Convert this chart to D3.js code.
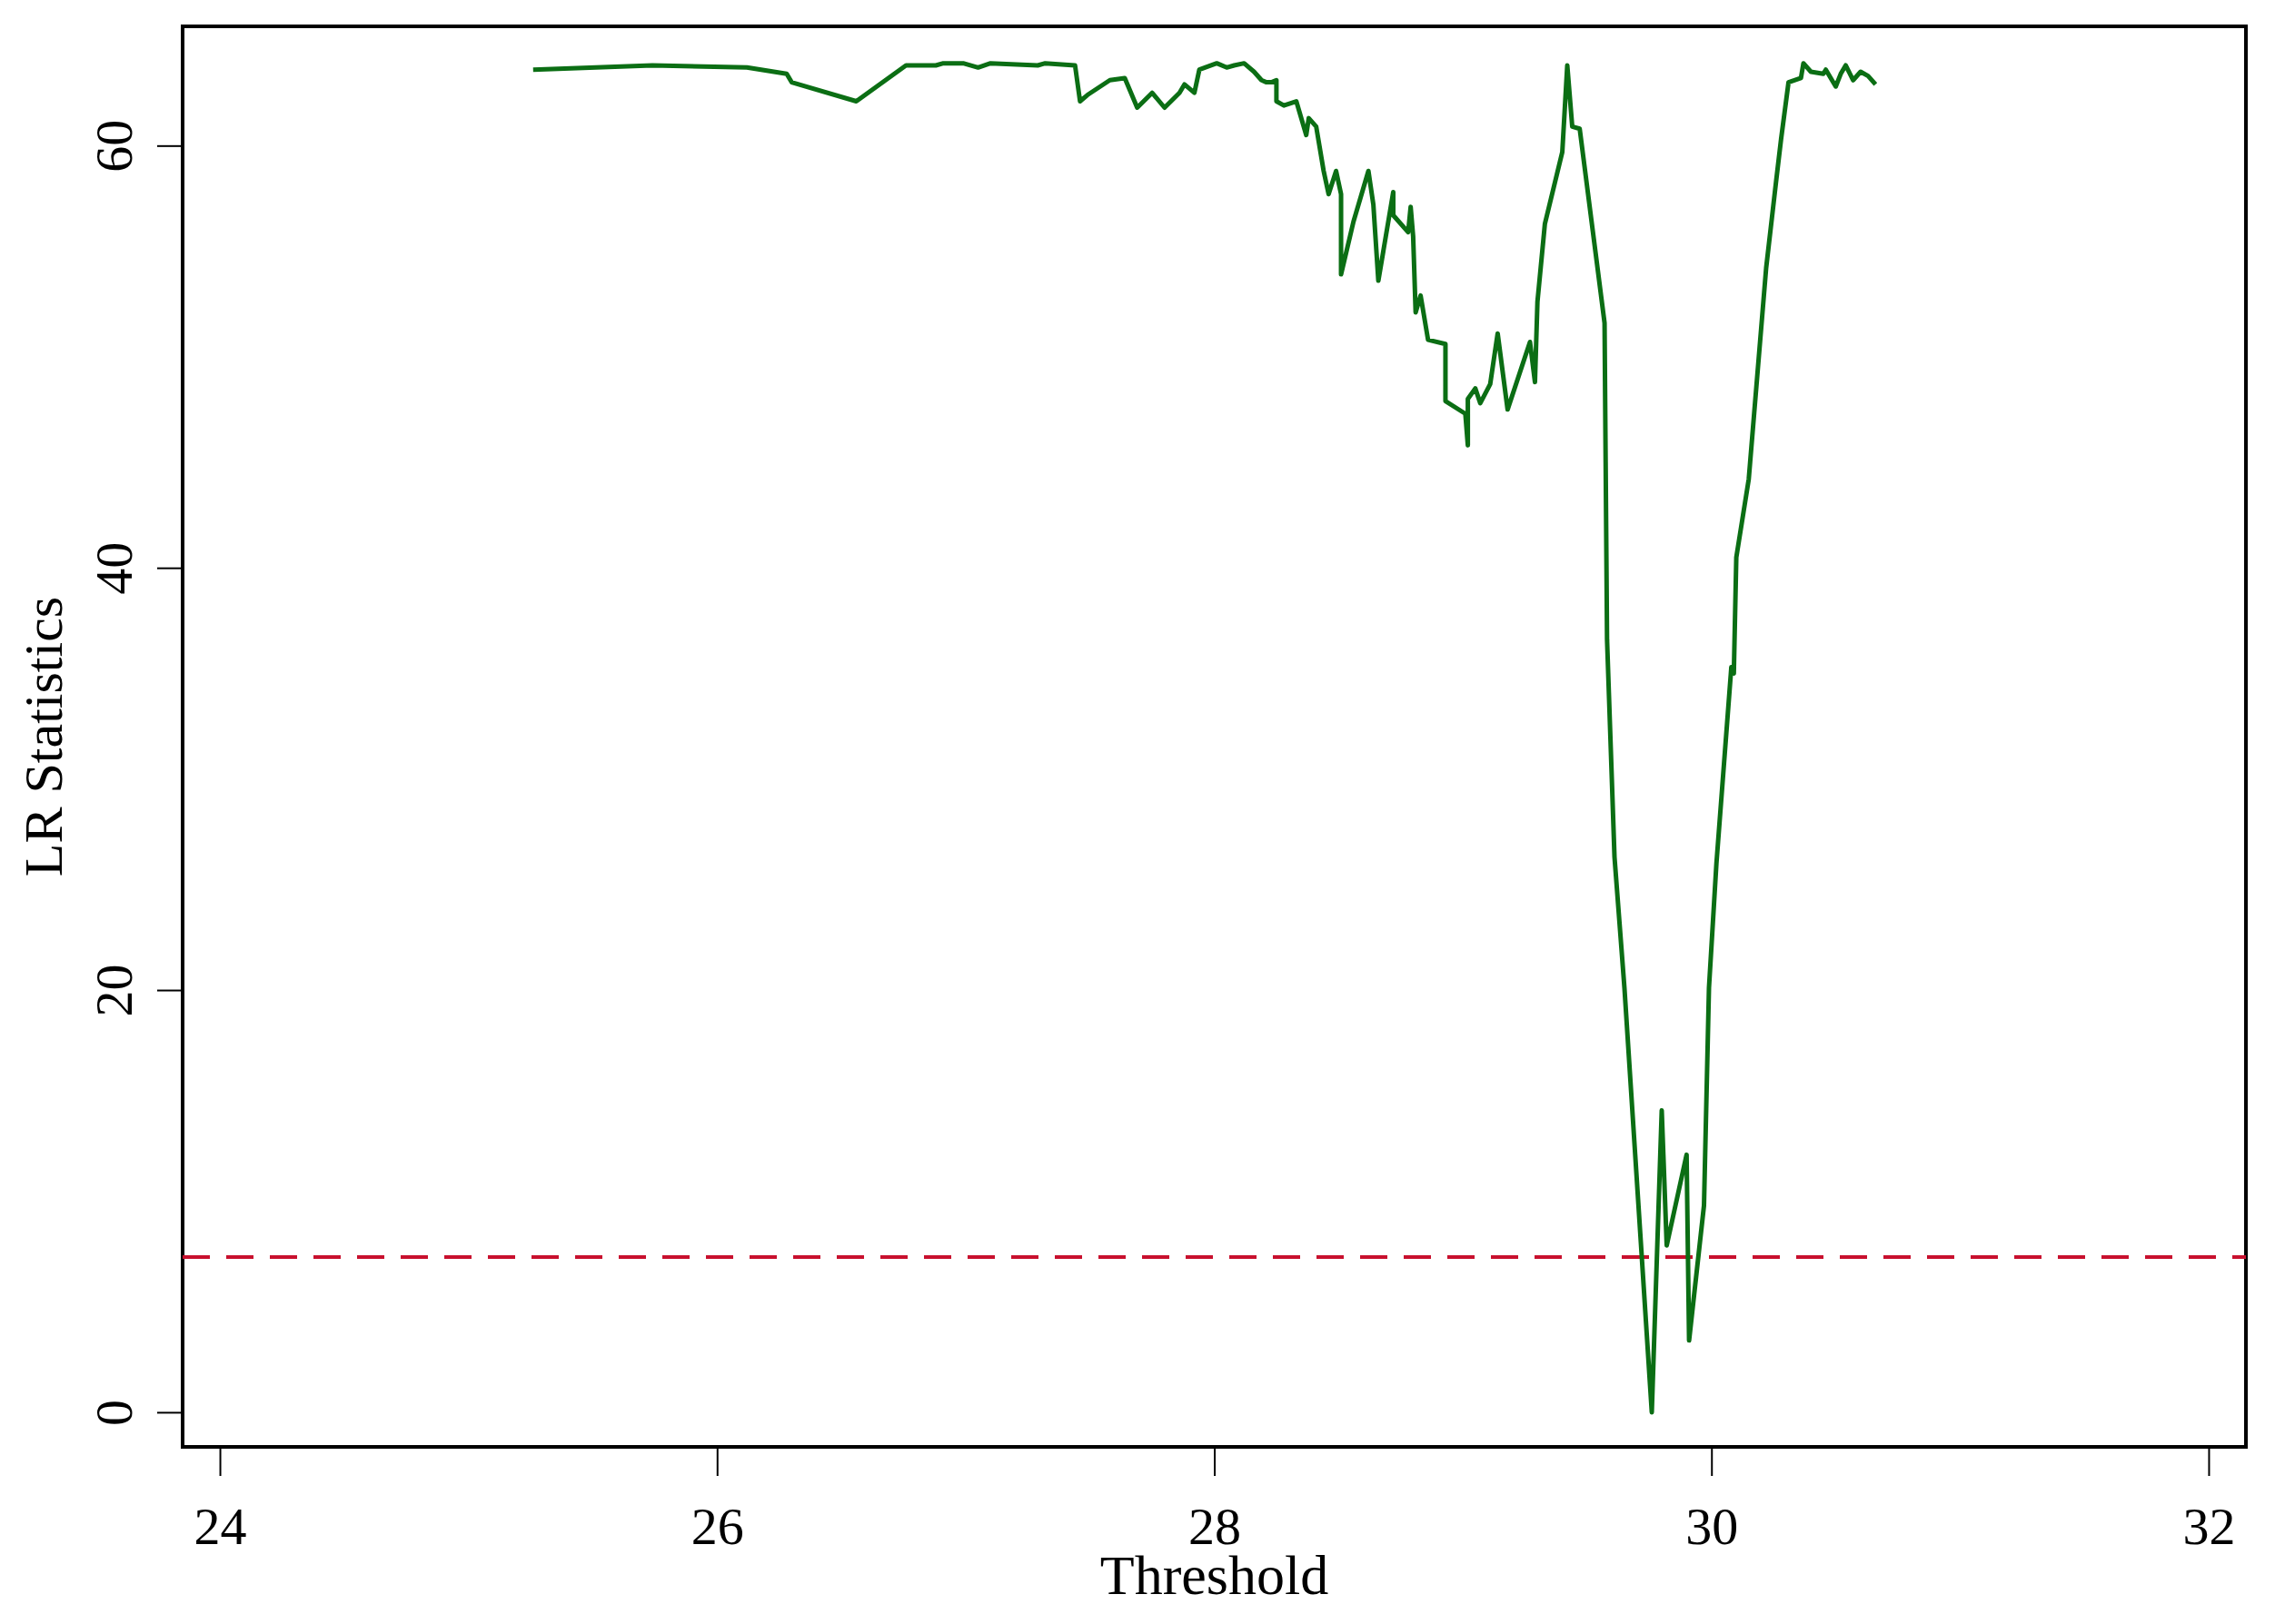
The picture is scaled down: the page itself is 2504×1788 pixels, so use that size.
<!DOCTYPE html>
<html><head><meta charset="utf-8">
<script src="https://cdn.jsdelivr.net/npm/d3@7"></script>
<style>body{margin:0;background:#fff}</style>
</head><body><div id="chart"></div>
<script>
// threshold grid and LR statistic
var thresholds = [25.26,25.74,26.12,26.28,26.30,26.56,26.76,26.88,26.91,26.99,27.05,27.10,27.29,27.32,27.44,27.46,27.49,27.58,27.64,27.69,27.75,27.80,27.86,27.88,27.92,27.94,28.01,28.05,28.08,28.12,28.16,28.19,28.21,28.23,28.25,28.25,28.28,28.33,28.37,28.38,28.41,28.44,28.46,28.49,28.51,28.51,28.56,28.62,28.64,28.66,28.72,28.72,28.78,28.79,28.80,28.81,28.83,28.86,28.93,28.93,29.01,29.02,29.02,29.05,29.07,29.11,29.14,29.18,29.27,29.29,29.30,29.33,29.40,29.42,29.44,29.47,29.57,29.58,29.61,29.65,29.76,29.80,29.82,29.90,29.91,29.97,29.99,30.02,30.08,30.09,30.10,30.15,30.22,30.26,30.28,30.31,30.36,30.37,30.40,30.45,30.46,30.50,30.52,30.54,30.57,30.60,30.63,30.66];
var lrStats = [63.6,63.8,63.7,63.4,63.0,62.1,63.8,63.8,63.9,63.9,63.7,63.9,63.8,63.9,63.8,62.1,62.4,63.1,63.2,61.8,62.5,61.8,62.5,62.9,62.5,63.6,63.9,63.7,63.8,63.9,63.5,63.1,63.0,63.0,63.1,62.1,61.9,62.1,60.5,61.3,60.9,58.8,57.7,58.8,57.7,53.9,56.4,58.8,57.2,53.6,57.8,56.7,55.9,57.1,55.7,52.1,52.9,50.8,50.6,47.9,47.3,45.8,48.0,48.5,47.8,48.7,51.1,47.5,50.7,48.8,52.6,56.3,59.7,63.8,60.9,60.8,51.6,36.6,26.3,20.1,0.0,14.3,7.9,12.2,3.4,9.8,20.1,26.0,35.3,35.0,40.5,44.2,54.2,58.3,60.3,63.0,63.2,63.9,63.5,63.4,63.6,62.8,63.4,63.8,63.1,63.5,63.3,62.9];
var xTicks = [24,26,28,30,32];
var yTicks = [0,20,40,60];
var critical = 7.35;

var W = 2504, H = 1788;
var box = {left: 201, right: 2472, top: 29, bottom: 1593};
var font = "'Liberation Serif','DejaVu Serif',serif";

var svg = d3.select("#chart").append("svg").attr("width", W).attr("height", H);

var x = d3.scaleLinear().domain([23.85, 32.15]).range([box.left, box.right]);
var y = d3.scaleLinear().domain([-1.64, 65.65]).range([box.bottom, box.top]);

// x axis
var xAxis = svg.append("g").attr("transform", "translate(0," + (box.bottom + 2) + ")")
  .call(d3.axisBottom(x).tickValues(xTicks).tickSize(30).tickPadding(34).tickFormat(d3.format("d")));
xAxis.select(".domain").remove();
xAxis.selectAll("line").attr("stroke", "#000").attr("stroke-width", 2);
xAxis.selectAll("text").attr("font-family", font).attr("font-size", 58).attr("fill", "#000");

// y axis, rotated labels
var yAxis = svg.append("g").attr("transform", "translate(" + (box.left - 2) + ",0)")
  .call(d3.axisLeft(y).tickValues(yTicks).tickSize(26).tickFormat(d3.format("d")));
yAxis.select(".domain").remove();
yAxis.selectAll("line").attr("stroke", "#000").attr("stroke-width", 2);
yAxis.selectAll("text").attr("font-family", font).attr("font-size", 58).attr("fill", "#000")
  .attr("transform", "rotate(-90)").attr("x", 0).attr("y", -54).attr("dy", "0").attr("text-anchor", "middle");

// frame
svg.append("rect").attr("x", box.left).attr("y", box.top)
  .attr("width", box.right - box.left).attr("height", box.bottom - box.top)
  .attr("fill", "none").attr("stroke", "#000").attr("stroke-width", 4);

// critical value
svg.append("line").attr("x1", box.left).attr("x2", box.right)
  .attr("y1", y(critical)).attr("y2", y(critical))
  .attr("stroke", "#c8102e").attr("stroke-width", 4).attr("stroke-dasharray", "30,18");

var line = d3.line().x(function(d, i){ return x(thresholds[i]); }).y(function(d){ return y(d); });
svg.append("path").datum(lrStats).attr("d", line)
  .attr("fill", "none").attr("stroke", "#0b6e14").attr("stroke-width", 5).attr("stroke-linejoin", "round");

svg.append("text").attr("x", x(28)).attr("y", 1755).attr("text-anchor", "middle")
  .attr("font-family", font).attr("font-size", 62).text("Threshold");
svg.append("text").attr("transform", "translate(68," + ((box.top + box.bottom) / 2) + ") rotate(-90)")
  .attr("text-anchor", "middle").attr("font-family", font).attr("font-size", 60).text("LR Statistics");
</script></body></html>
